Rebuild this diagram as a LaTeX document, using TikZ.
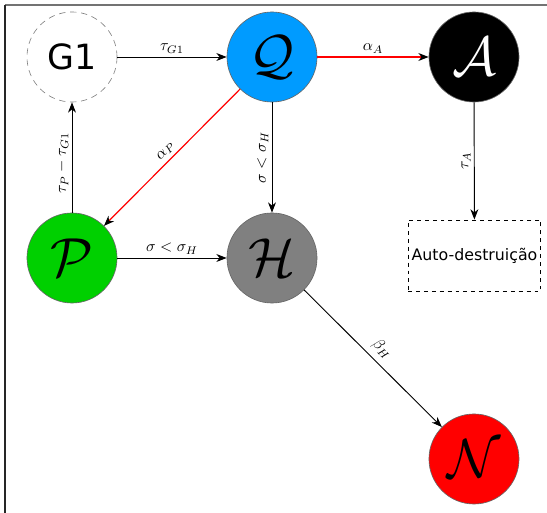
\documentclass[tikz,border=0pt]{standalone}
\usepackage{fontspec}
\usepackage{graphicx}
\usetikzlibrary{arrows.meta}
\newfontfamily\dejavu{DejaVu Sans}
\newcommand{\bigcal}[1]{\scalebox{1.4}{$\mathcal{#1}$}}
\definecolor{qblue}{RGB}{0,155,255}
\definecolor{pgreen}{RGB}{0,208,0}
\definecolor{hgray}{RGB}{128,128,128}
\definecolor{nred}{RGB}{255,0,0}
\definecolor{ered}{RGB}{255,0,0}
\tikzset{
  state/.style={circle,draw=black!60,line width=0.4pt,minimum size=57pt,inner sep=0pt},
  calfont/.style={font=\Huge},
  edge/.style={line width=0.6pt,-{Stealth[length=6.5pt,width=5pt,inset=2pt,color=black]}},
  rededge/.style={edge,draw=ered,line width=0.75pt},
  lab/.style={font=\normalsize,inner sep=2pt,text=black}
}
\begin{document}
\begin{tikzpicture}[x=0.633pt,y=-0.633pt]
\useasboundingbox (0,0) rectangle (547,513);
\draw[black!55,line width=0.8pt] (5,5) -- (547,5);
\draw[black!85,line width=0.8pt] (5,5) -- (5,513);
\node[state,draw=black!50,dash pattern=on 4pt off 3pt,font=\dejavu\fontsize{22}{26}\selectfont] (g1) at (72,57) {G1};
\node[state,fill=qblue,calfont] (q) at (272,57) {\bigcal{Q}};
\node[state,fill=black,text=white,calfont] (a) at (474,57) {\bigcal{A}};
\node[state,fill=pgreen,calfont] (p) at (72,258) {\bigcal{P}};
\node[state,fill=hgray,calfont] (h) at (272,258) {\bigcal{H}};
\node[state,fill=nred,calfont] (n) at (474,459) {\bigcal{N}};
\node[draw,dash pattern=on 2.5pt off 2.5pt,line width=0.5pt,minimum width=84pt,minimum height=45pt,inner sep=0pt,font=\dejavu] (ad) at (474.5,255.5) {Auto-destruição};
\draw[edge] (g1) -- node[lab,above] {$\tau_{G1}$} (q);
\draw[rededge] (q) -- node[lab,above] {$\alpha_A$} (a);
\draw[rededge] (q) -- node[lab,above,sloped] {$\alpha_P$} (p);
\draw[edge] (q) -- node[lab,rotate=90,anchor=south] {$\sigma<\sigma_H$} (h);
\draw[edge] (p) -- node[lab,rotate=90,anchor=south,pos=0.45] {$\tau_P-\tau_{G1}$} (g1);
\draw[edge] (p) -- node[lab,above] {$\sigma<\sigma_H$} (h);
\draw[edge] (a) -- node[lab,rotate=90,anchor=south] {$\tau_A$} (ad);
\draw[edge] (h) -- node[lab,above=1.5pt,sloped] {$\beta_H$} (n);
\end{tikzpicture}
\end{document}
